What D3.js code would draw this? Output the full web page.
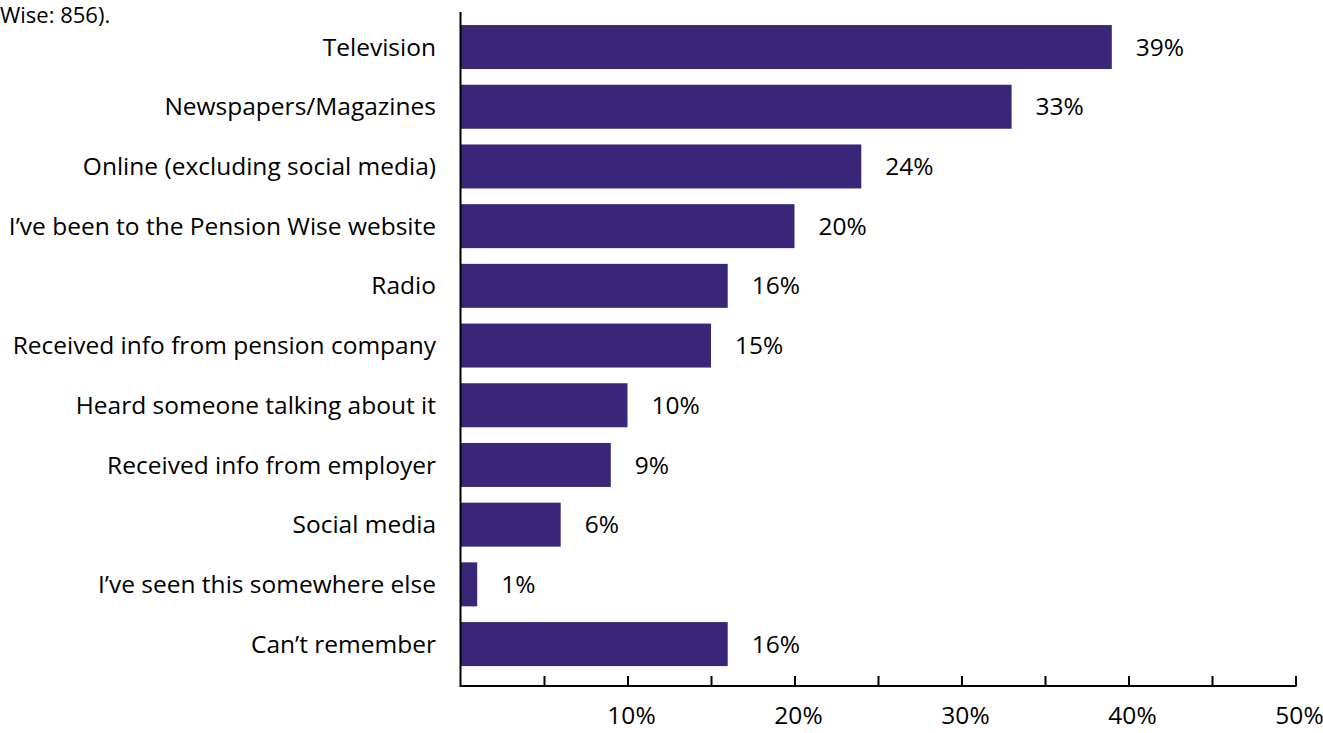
<!DOCTYPE html>
<html>
<head>
<meta charset="utf-8">
<script src="https://cdn.jsdelivr.net/npm/d3@7"></script>
<style>
  html, body { margin: 0; padding: 0; background: #fff; }
  svg { display: block; font-family: "Open Sans", "Noto Sans", sans-serif; }
</style>
</head>
<body>
<svg id="chart" width="1323" height="733"></svg>
<script>
// Where people heard about Pension Wise (% of respondents)
const categories = [
  "Television",
  "Newspapers/Magazines",
  "Online (excluding social media)",
  "I\u2019ve been to the Pension Wise website",
  "Radio",
  "Received info from pension company",
  "Heard someone talking about it",
  "Received info from employer",
  "Social media",
  "I\u2019ve seen this somewhere else",
  "Can\u2019t remember"
];
const values = [39, 33, 24, 20, 16, 15, 10, 9, 6, 1, 16];
const tickValues = [5, 10, 15, 20, 25, 30, 35, 40, 45, 50];
const tickLabels = [10, 20, 30, 40, 50];
const noteText = "Wise: 856).";

const svg = d3.select("#chart");
const fontSize = 24.5;
const barColor = "#3a2679";

const x = d3.scaleLinear().domain([0, 50]).range([460.5, 1295.5]);
const y = d3.scaleBand()
  .domain(categories)
  .range([17.2, 673.9])
  .paddingInner(0.263)
  .paddingOuter(0.1315);

const axisY = 686;

// note text fragment at top-left
svg.append("text")
  .attr("x", 0).attr("y", 23)
  .attr("font-size", 22)
  .attr("fill", "#000")
  .text(noteText);

// bars
svg.append("g").selectAll("rect")
  .data(values)
  .join("rect")
  .attr("x", x(0))
  .attr("y", (d, i) => y(categories[i]))
  .attr("width", d => x(d) - x(0))
  .attr("height", y.bandwidth())
  .attr("fill", barColor);

// value labels
svg.append("g").selectAll("text")
  .data(values)
  .join("text")
  .attr("x", d => x(d) + 24)
  .attr("y", (d, i) => y(categories[i]) + y.bandwidth() / 2)
  .attr("dy", "0.35em")
  .attr("font-size", fontSize)
  .attr("fill", "#000")
  .text(d => d + "%");

// category labels
svg.append("g").selectAll("text")
  .data(categories)
  .join("text")
  .attr("x", 436)
  .attr("y", d => y(d) + y.bandwidth() / 2)
  .attr("dy", "0.35em")
  .attr("text-anchor", "end")
  .attr("font-size", fontSize)
  .attr("fill", "#000")
  .text(d => d);

// vertical axis line
svg.append("line")
  .attr("x1", x(0)).attr("x2", x(0))
  .attr("y1", 12).attr("y2", axisY)
  .attr("stroke", "#000").attr("stroke-width", 2);

// horizontal axis with inward ticks
const xAxis = d3.axisBottom(x)
  .tickValues(tickValues)
  .tickSizeInner(-10)
  .tickSizeOuter(0)
  .tickFormat("");
const gx = svg.append("g")
  .attr("transform", `translate(0,${axisY})`)
  .call(xAxis);
gx.select(".domain")
  .attr("stroke", "#000").attr("stroke-width", 2)
  .attr("d", `M${x(0) - 1},0H${x(50) + 1}`);
gx.selectAll(".tick line").attr("stroke", "#000").attr("stroke-width", 2);

// tick labels at every 10%
svg.append("g").selectAll("text")
  .data(tickLabels)
  .join("text")
  .attr("x", d => x(d) + 4)
  .attr("y", 724)
  .attr("text-anchor", "middle")
  .attr("font-size", fontSize)
  .attr("fill", "#000")
  .text(d => d + "%");
</script>
</body>
</html>
